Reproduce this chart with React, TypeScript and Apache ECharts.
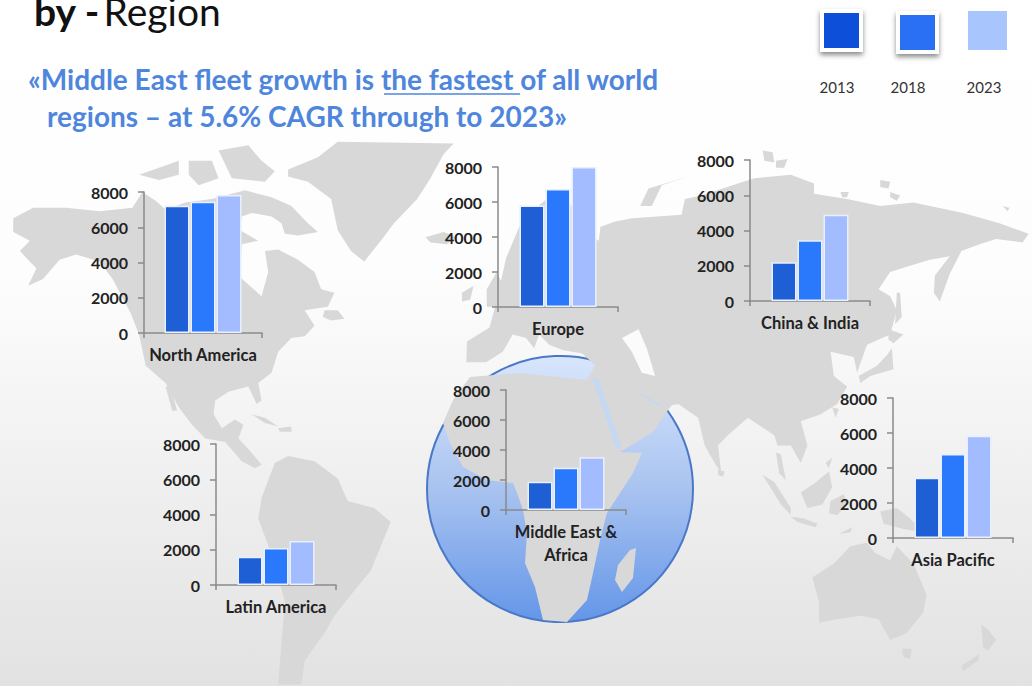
import React, { useEffect, useRef } from "react";
import * as echarts from "echarts";

const years = ["2013", "2018", "2023"];
const regions = ["North America", "Europe", "China & India", "Middle East &\nAfrica", "Latin America", "Asia Pacific"];
const values2013 = [7220, 5800, 2200, 1880, 1600, 3450];
const values2018 = [7450, 6750, 3450, 2820, 2100, 4800];
const values2023 = [7830, 8000, 4900, 3520, 2500, 5850];
const yearValues = [values2013, values2018, values2023];
const barColors = ["#1f5fd6", "#2a78fb", "#a3bcff"];
const legendColors = ["#0a50d8", "#2a70f5", "#a8c6fd"];
const yTicksMax = 8000;
const yTickStep = 2000;

// left, top, width, height of each small chart
const panels = [
  [144, 192, 118, 141],
  [498, 167, 120, 140],
  [750, 160, 120, 141],
  [506, 390, 120, 120],
  [216, 444, 120, 141],
  [893, 398, 120, 140],
];

// decorative backdrop: world map, roughly traced (crop-relative coordinates)
const left = (pts: number[][]) => pts.map(([x, y]) => [x / 3.02, y / 2.88 + 140]);
const right = (pts: number[][]) => pts.map(([x, y]) => [x / 3.02 + 516, y / 2.88 + 140]);

const land: number[][][] = [
  // North America
  left([[40,225],[100,195],[200,195],[300,205],[400,195],[430,150],[470,175],[500,200],[560,180],[640,170],[740,145],[820,165],[880,190],[930,240],[960,265],[900,275],[860,270],[850,240],[820,220],[760,210],[730,220],[725,260],[780,290],[730,300],[725,395],[790,450],[810,380],[800,320],[840,315],[900,345],[950,380],[970,430],[1010,440],[990,480],[920,490],[950,535],[920,565],[880,570],[840,610],[820,670],[780,700],[790,750],[775,760],[750,710],[690,725],[650,750],[645,790],[670,830],[710,805],[735,820],[720,860],[750,890],[790,935],[770,945],[730,925],[680,870],[620,860],[580,820],[540,770],[500,700],[440,650],[420,560],[395,500],[340,400],[300,350],[230,330],[180,345],[130,400],[85,420],[110,370],[60,320],[90,290],[40,265]]),
  // Arctic islands
  left([[420,100],[480,80],[540,60],[540,100],[480,115]]),
  left([[570,60],[640,60],[660,110],[600,130],[570,100]]),
  left([[660,30],[750,15],[790,60],[830,90],[800,120],[700,110],[680,70]]),
  // Greenland
  left([[870,85],[960,50],[1020,5],[1370,10],[1340,40],[1300,110],[1260,170],[1190,240],[1150,290],[1100,350],[1060,320],[1020,260],[1000,170],[930,120],[870,105]]),
  // Caribbean, Newfoundland, Baja, Iceland
  left([[760,790],[800,800],[840,825],[800,815]]),
  left([[840,830],[880,825],[880,840],[845,840]]),
  left([[980,490],[1020,490],[1040,515],[1000,520],[975,510]]),
  left([[500,710],[515,710],[535,780],[520,780]]),
  left([[1285,280],[1340,265],[1380,280],[1350,300],[1300,295]]),
  // South America
  left([[830,930],[870,910],[950,925],[1020,975],[1050,1040],[1130,1060],[1180,1100],[1150,1170],[1120,1240],[1060,1310],[1010,1370],[980,1420],[920,1500],[910,1568],[840,1568],[850,1450],[860,1330],[830,1220],[780,1090],[790,1030],[810,980]]),
  // Ireland, Britain
  left([[1395,440],[1430,420],[1420,460],[1395,465]]),
  left([[1470,430],[1500,380],[1530,440],[1520,480],[1470,480]]),
  // Eurasia
  right([[-148,580],[-80,540],[-60,470],[-30,340],[10,250],[40,210],[120,150],[170,190],[200,260],[250,290],[255,250],[300,235],[350,225],[500,215],[510,170],[560,160],[670,125],[720,110],[830,100],[900,125],[900,155],[1000,170],[1100,190],[1200,180],[1350,210],[1460,240],[1548,270],[1530,295],[1450,285],[1400,300],[1345,320],[1310,385],[1280,465],[1262,440],[1265,390],[1310,335],[1250,345],[1180,365],[1130,380],[1095,430],[1130,450],[1150,490],[1130,560],[1060,590],[1030,670],[1020,625],[950,610],[960,680],[1000,710],[970,760],[920,790],[860,810],[880,880],[860,930],[830,880],[790,880],[780,850],[700,800],[640,850],[610,880],[620,960],[600,930],[570,880],[550,800],[490,760],[440,770],[380,750],[350,720],[235,695],[240,650],[200,615],[140,605],[100,590],[70,560],[55,600],[30,570],[-10,560],[-40,610],[-90,640],[-150,640]]),
  // Novaya Zemlya, Svalbard, Severnaya, Wrangel
  right([[375,190],[400,140],[520,105],[440,130],[410,190]]),
  right([[745,30],[775,35],[780,65],[750,60]]),
  right([[785,60],[820,55],[810,80],[785,80]]),
  right([[1100,115],[1130,120],[1125,140],[1100,135]]),
  right([[1130,150],[1160,160],[1150,175],[1130,165]]),
  right([[980,150],[1005,150],[1000,165],[985,165]]),
  right([[1470,190],[1490,195],[1485,205]]),
  // Sakhalin, Japan, Taiwan, Sri Lanka
  right([[1150,440],[1160,440],[1165,510],[1145,530]]),
  right([[1135,600],[1140,660],[1070,680],[1040,700],[1035,680],[1090,650],[1120,620]]),
  right([[1125,545],[1170,560],[1140,585],[1125,575]]),
  right([[955,770],[975,775],[965,800]]),
  right([[610,950],[630,955],[625,970],[610,965]]),
  // South-east Asia
  right([[785,900],[800,905],[815,980],[795,960]]),
  right([[935,930],[955,915],[945,945]]),
  right([[745,965],[780,985],[830,1060],[830,1080],[800,1050]]),
  right([[830,1085],[870,1090],[910,1105],[905,1115],[850,1100]]),
  right([[860,1015],[900,990],[945,955],[955,1000],[925,1050],[880,1060]]),
  right([[950,1040],[990,1020],[1000,1050],[970,1080],[945,1075]]),
  right([[1100,1070],[1150,1060],[1190,1090],[1230,1130],[1170,1120],[1110,1105]]),
  right([[975,1135],[1015,1115],[1010,1130]]),
  // Australia, Tasmania, New Zealand
  right([[895,1260],[960,1220],[1010,1170],[1060,1160],[1085,1190],[1130,1210],[1150,1170],[1200,1220],[1240,1310],[1230,1360],[1180,1420],[1130,1440],[1095,1380],[1040,1370],[970,1380],[915,1390],[915,1330]]),
  right([[1165,1465],[1195,1465],[1190,1495],[1170,1490]]),
  right([[1405,1395],[1425,1410],[1450,1440],[1425,1470],[1410,1460]]),
  right([[1400,1480],[1395,1500],[1350,1530],[1345,1515]]),
  // Africa and Arabia
  [[470,377],[453,400],[443,423],[450,443],[463,467],[487,480],[513,483],[517,493],[523,510],[527,533],[525,563],[535,587],[543,620],[567,622],[587,600],[593,573],[600,540],[607,513],[633,473],[642,453],[620,452],[653,432],[668,410],[680,395],[640,378],[597,362],[587,380],[520,373]],
  // Madagascar
  [[630,550],[636,548],[633,578],[622,592],[615,580],[618,565]],
];
const waterWhite: number[][][] = [
  // Caspian
  right([[320,570],[370,545],[395,600],[420,680],[380,670],[350,610]]),
];
const waterBlue: number[][][] = [
  // Red Sea, Persian Gulf
  [[592,378],[598,378],[622,448],[616,448]],
  [[633,390],[647,397],[667,408],[653,403]],
];

function buildGraphic() {
  const els: any[] = [];
  els.push({
    type: "rect", z: -10, shape: { x: 0, y: 0, width: 1032, height: 686 },
    style: { fill: new echarts.graphic.LinearGradient(0, 0, 0, 1, [
      { offset: 0, color: "#ffffff" }, { offset: 0.4, color: "#fdfdfd" }, { offset: 1, color: "#e2e2e2" },
    ]) },
  });
  els.push({
    type: "circle", z: -9, shape: { cx: 560, cy: 489, r: 133 },
    style: {
      fill: new echarts.graphic.LinearGradient(0, 0, 0, 1, [
        { offset: 0, color: "#d8e6fc" }, { offset: 0.5, color: "#a9c3f0" }, { offset: 1, color: "#6496e8" },
      ]),
      stroke: "#4a78c8", lineWidth: 2,
    },
  });
  land.forEach((points) => els.push({ type: "polygon", z: -8, shape: { points }, style: { fill: "#d8d8d8" } }));
  waterWhite.forEach((points) => els.push({ type: "polygon", z: -7, shape: { points }, style: { fill: "#fbfbfb" } }));
  waterBlue.forEach((points) => els.push({ type: "polygon", z: -7, shape: { points }, style: { fill: "#c6d7f2" } }));

  els.push({ type: "text", z: 5, x: 34, y: 30, style: {
    text: "{b|by -} {r|Region}", verticalAlign: "bottom", fill: "#111",
    rich: {
      b: { fontFamily: "Lato", fontSize: 39, fontWeight: "bold", fill: "#111" },
      r: { fontFamily: "Lato", fontSize: 39, fontWeight: "normal", fill: "#111" },
    },
  } });
  const blue = { fontFamily: "Lato", fontSize: 28, fontWeight: "bold", fill: "#4f86dd" };
  els.push({ type: "text", z: 5, x: 28, y: 65, style: { ...blue, text: "«Middle East fleet growth is the fastest of all world" } });
  els.push({ type: "text", z: 5, x: 47, y: 102, style: { ...blue, text: "regions – at 5.6% CAGR through to 2023»" } });
  els.push({ type: "line", z: 5, shape: { x1: 384, y1: 94, x2: 520, y2: 94 }, style: { stroke: "#4f86dd", lineWidth: 1.5 } });

  const squares = [[822, 11], [898, 13], [968, 11]];
  const labelX = [837, 908, 984];
  years.forEach((y, i) => {
    els.push({
      type: "rect", z: 5, shape: { x: squares[i][0], y: squares[i][1], width: 39, height: 39 },
      style: {
        fill: legendColors[i],
        stroke: i < 2 ? "#ffffff" : undefined, lineWidth: i < 2 ? 4 : 0,
        shadowBlur: i < 2 ? 5 : 0, shadowColor: "rgba(0,0,0,0.45)", shadowOffsetY: i < 2 ? 3 : 0,
      },
    });
    els.push({ type: "text", z: 5, x: labelX[i], y: 79, style: { text: y, fontFamily: "Lato", fontSize: 15, fill: "#333", align: "center" } });
  });
  return els;
}

export default function App() {
  const ref = useRef<HTMLDivElement>(null);
  useEffect(() => {
    const chart = echarts.init(ref.current!, undefined, { renderer: "svg" });
    const axisColor = "#8a8a8a";
    chart.setOption({
      animation: false,
      graphic: { elements: buildGraphic() },
      grid: panels.map(([left, top, width, height]) => ({ left, top, width, height, containLabel: false })),
      xAxis: regions.map((r, i) => ({
        type: "category", gridIndex: i, data: [r],
        axisLine: { show: true, lineStyle: { color: axisColor, width: 1.5 } },
        axisTick: { show: true, length: 5, inside: false, lineStyle: { color: axisColor, width: 1.5 } },
        axisLabel: { color: "#222", fontFamily: "Lato", fontSize: 16.5, fontWeight: "bold", margin: 10, lineHeight: 23, interval: 0 },
      })),
      yAxis: regions.map((_, i) => ({
        type: "value", gridIndex: i, min: 0, max: yTicksMax, interval: yTickStep,
        splitLine: { show: false },
        axisLine: { show: true, lineStyle: { color: axisColor, width: 1.5 } },
        axisTick: { show: true, length: 6, lineStyle: { color: axisColor, width: 1.5 } },
        axisLabel: { color: "#222", fontFamily: "Lato", fontSize: 16, fontWeight: "bold", margin: 16, formatter: (v: number) => String(v) },
      })),
      series: regions.flatMap((_, r) => years.map((y, s) => ({
        type: "bar", name: y, xAxisIndex: r, yAxisIndex: r,
        data: [yearValues[s][r]], barWidth: 25, barGap: "4%",
        itemStyle: { color: barColors[s], borderColor: "#e6f0ff", borderWidth: 1.5 },
      }))),
    });
    return () => chart.dispose();
  }, []);
  return <div ref={ref} style={{ position: "absolute", left: 0, top: 0, width: 1032, height: 686 }} />;
}
